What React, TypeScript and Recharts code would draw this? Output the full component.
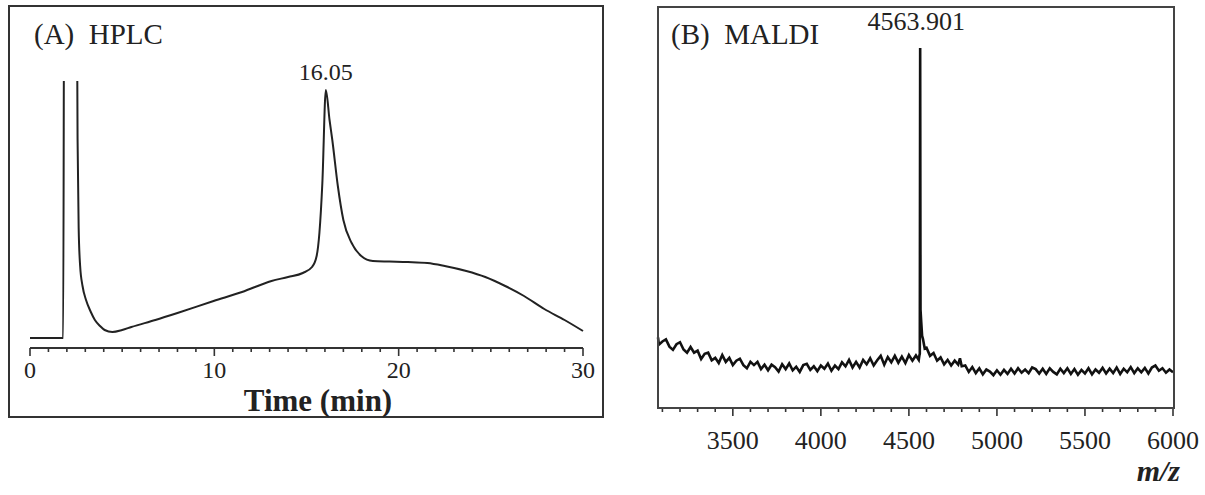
import { LineChart, Line, XAxis, YAxis, ReferenceDot } from 'recharts';

const serif = '"Liberation Serif", "Times New Roman", serif';

// (A) HPLC chromatogram: time (min) vs detector signal (arbitrary units)
const hplcTime = [
  0, 1.8, 1.86, 2.52, 2.58, 2.64, 2.72, 2.85, 3.04, 3.3, 3.52, 3.8, 4.05, 4.47, 5.0, 5.5,
  6.8, 8.0, 9.96, 11.5, 13.1, 14.0, 14.8, 15.3, 15.55, 15.7, 15.86, 16.05, 16.25, 16.4,
  16.7, 17.0, 17.45, 17.97, 18.6, 19.5, 20.5, 21.56, 22.5, 23.67, 24.7, 25.78, 26.8,
  27.9, 29.0, 30,
];
const hplcSignal = [
  0, 0, 420, 420, 200, 110, 72, 52, 38, 26, 18, 12, 8, 6, 8, 11,
  18, 25, 37, 46, 57, 61, 65, 71, 82, 105, 155, 248, 218, 198,
  152, 118, 95, 82, 77, 76.5, 76, 75, 72, 67, 61, 52, 42,
  29, 18, 7,
];
const hplcTicks = [
  0, 1, 2, 3, 4, 5, 6, 7, 8, 9, 10, 11, 12, 13, 14, 15, 16, 17, 18, 19, 20,
  21, 22, 23, 24, 25, 26, 27, 28, 29, 30,
];

// (B) MALDI spectrum: m/z vs relative intensity
const maldiMz = [
  3075, 3080, 3100, 3120, 3140, 3160, 3180, 3200, 3220, 3240, 3260, 3280, 3300, 3320,
  3340, 3360, 3380, 3400, 3420, 3440, 3460, 3480, 3500, 3520, 3540, 3560, 3580, 3600,
  3620, 3640, 3660, 3680, 3700, 3720, 3740, 3760, 3780, 3800, 3820, 3840, 3860, 3880,
  3900, 3920, 3940, 3960, 3980, 4000, 4020, 4040, 4060, 4080, 4100, 4120, 4140, 4160,
  4180, 4200, 4220, 4240, 4260, 4280, 4300, 4320, 4340, 4360, 4380, 4400, 4420, 4440,
  4460, 4480, 4500, 4520, 4540, 4556, 4560, 4562, 4564, 4566, 4570, 4575, 4580, 4590,
  4600, 4620, 4640, 4660, 4680, 4700, 4720, 4740, 4760, 4780, 4790, 4800, 4820, 4840,
  4860, 4880, 4900, 4920, 4940, 4960, 4980, 5000, 5020, 5040, 5060, 5080, 5100, 5120,
  5140, 5160, 5180, 5200, 5220, 5240, 5260, 5280, 5300, 5320, 5340, 5360, 5380, 5400,
  5420, 5440, 5460, 5480, 5500, 5520, 5540, 5560, 5580, 5600, 5620, 5640, 5660, 5680,
  5700, 5720, 5740, 5760, 5780, 5800, 5820, 5840, 5860, 5880, 5900, 5920, 5940, 5960,
  5980, 6000,
];
const maldiIntensity = [
  17.6, 15.8, 16.6, 17.1, 15.3, 14.5, 15.9, 16.4, 14.6, 13.8, 15.2, 13.8, 14.3, 12.2,
  13.5, 13.8, 11.9, 12.5, 11.2, 13.2, 11.5, 12.5, 10.7, 11.8, 12.3, 10.7, 9.9, 11.5,
  10.7, 11.5, 9.7, 10.8, 9.4, 10.8, 10.2, 9.1, 10.9, 9.7, 11.1, 9.4, 10.3, 9.0,
  10.7, 11.0, 9.5, 10.4, 9.2, 10.6, 9.8, 11.1, 9.3, 10.6, 9.7, 11.4, 10.4, 12.0,
  10.1, 11.5, 10.1, 12.0, 10.9, 12.4, 10.6, 11.9, 13.0, 10.8, 12.7, 11.4, 13.0, 11.3,
  12.8, 11.2, 13.2, 11.8, 13.1, 12.0, 13.2, 13.5, 89.8, 24.5, 21.5, 18.0, 17.2, 14.8,
  15.0, 13.0, 13.7, 11.8, 12.6, 10.9, 12.0, 10.6, 11.8, 10.8, 12.4, 10.4, 10.6, 9.0,
  10.2, 8.7, 9.9, 8.4, 9.6, 9.1, 8.2, 9.4, 8.3, 9.5, 8.5, 9.8, 8.6, 9.9,
  8.8, 9.6, 8.7, 10.1, 9.7, 8.6, 9.8, 8.5, 9.9, 9.0, 8.4, 9.8, 8.7, 9.9,
  8.5, 9.7, 8.3, 9.5, 8.6, 9.9, 8.4, 9.6, 8.8, 10.0, 8.6, 9.8, 8.7, 10.1,
  8.5, 9.8, 8.9, 10.2, 8.7, 9.9, 8.9, 10.0, 8.6, 10.1, 10.6, 9.3, 9.9, 8.8,
  9.6, 8.9,
];
const maldiTicks = [
  3100, 3200, 3300, 3400, 3500, 3600, 3700, 3800, 3900, 4000, 4100, 4200, 4300, 4400,
  4500, 4600, 4700, 4800, 4900, 5000, 5100, 5200, 5300, 5400, 5500, 5600, 5700, 5800,
  5900, 6000,
];

const hplcData = hplcTime.map((t, i) => ({ t, v: hplcSignal[i] }));
const maldiData = maldiMz.map((mz, i) => ({ mz, v: maldiIntensity[i] }));

const makeTick = (majorEvery: number, labelDy: number, fontSize: number) => (props: any) => {
  const { x, y, payload } = props;
  const major = payload.value % majorEvery === 0;
  return (
    <g>
      <line x1={x} x2={x} y1={y} y2={y + (major ? 8 : 4)} stroke="#333" strokeWidth={1.6} />
      {major && (
        <text x={x} y={y + labelDy} textAnchor="middle" fill="#222" style={{ fontFamily: serif, fontSize }}>
          {payload.value}
        </text>
      )}
    </g>
  );
};

const peakLabel = (text: string, dx: number, dy: number, fontSize: number) => (props: any) => {
  const vb = props.viewBox || {};
  return (
    <text x={vb.x + dx} y={vb.y - dy} textAnchor="middle" fill="#222" style={{ fontFamily: serif, fontSize }}>
      {text}
    </text>
  );
};

const textStyle = { position: 'absolute' as const, fontFamily: serif, color: '#222', lineHeight: 1, whiteSpace: 'pre' as const };

export default function App() {
  return (
    <div style={{ position: 'absolute', left: 0, top: 0, width: 1205, height: 495, background: '#fff' }}>
      {/* panel A frame */}
      <div style={{ position: 'absolute', left: 8, top: 5, width: 596, height: 413, border: '2px solid #333', boxSizing: 'border-box' }} />
      <div style={{ position: 'absolute', left: 0, top: 0 }}>
        <LineChart width={610} height={420} data={hplcData} margin={{ top: 81, right: 27, bottom: 22, left: 30 }}>
          <XAxis
            dataKey="t"
            type="number"
            domain={[0, 30]}
            ticks={hplcTicks}
            interval={0}
            tickSize={0}
            tickMargin={0}
            tickLine={false}
            axisLine={{ stroke: '#333', strokeWidth: 2 }}
            tick={makeTick(10, 30, 24)}
            height={50}
          />
          <YAxis hide domain={[-10, 257]} allowDataOverflow />
          <Line type="monotone" dataKey="v" stroke="#222" strokeWidth={2} dot={false} isAnimationActive={false} />
          <ReferenceDot x={16.05} y={248} r={0} fill="none" stroke="none" label={{ content: peakLabel('16.05', 0, 10, 24) }} />
        </LineChart>
      </div>
      <div style={{ ...textStyle, left: 34, top: 20, fontSize: 29 }}>{'(A)  HPLC'}</div>
      <div style={{ ...textStyle, left: 318, top: 385, fontSize: 31, fontWeight: 'bold', transform: 'translateX(-50%)' }}>Time (min)</div>

      {/* panel B */}
      <div style={{ position: 'absolute', left: 640, top: 0 }}>
        <LineChart width={565} height={495} data={maldiData} margin={{ top: 7, right: 32, bottom: 27, left: 18 }}>
          <XAxis
            dataKey="mz"
            type="number"
            domain={[3075, 6000]}
            ticks={maldiTicks}
            interval={0}
            tickSize={0}
            tickMargin={0}
            tickLine={false}
            axisLine={false}
            tick={makeTick(500, 41, 26)}
            height={60}
          />
          <YAxis hide domain={[0, 100]} allowDataOverflow />
          <Line type="linear" dataKey="v" stroke="#111" strokeWidth={2.6} dot={false} isAnimationActive={false} />
          <ReferenceDot x={4563.9} y={89.8} r={0} fill="none" stroke="none" label={{ content: peakLabel('4563.901', -4, 18, 26) }} />
        </LineChart>
      </div>
      <div style={{ position: 'absolute', left: 657, top: 6, width: 518, height: 403, border: '2px solid #444', boxSizing: 'border-box' }} />
      <div style={{ ...textStyle, left: 671, top: 20, fontSize: 29 }}>{'(B)  MALDI'}</div>
      <div style={{ ...textStyle, left: 1180, top: 456, fontSize: 30, fontWeight: 'bold', fontStyle: 'italic', transform: 'translateX(-100%)' }}>m/z</div>
    </div>
  );
}
